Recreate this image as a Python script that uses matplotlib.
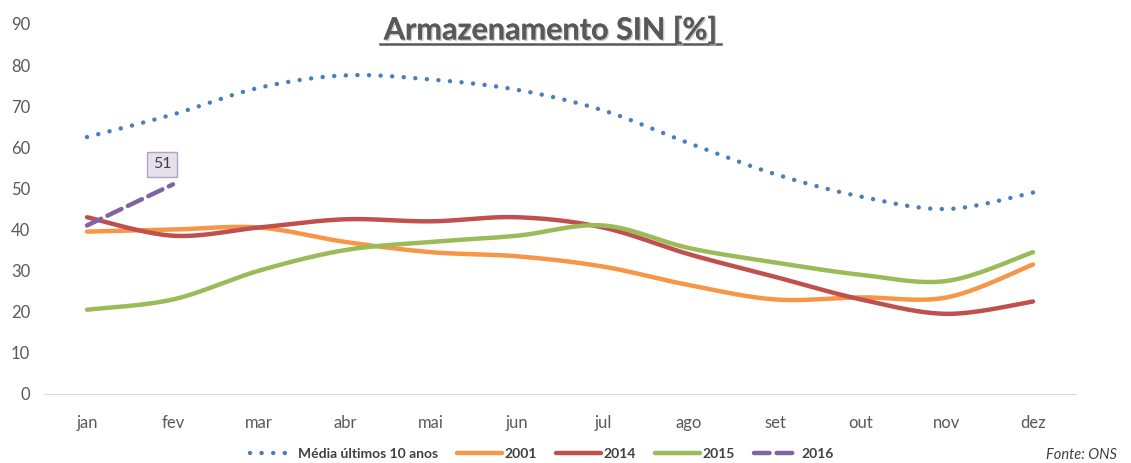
import numpy as np
import matplotlib
matplotlib.use("Agg")
import matplotlib.pyplot as plt
import matplotlib.patheffects as pe

months = ["jan", "fev", "mar", "abr", "mai", "jun", "jul", "ago", "set", "out", "nov", "dez"]
media = [62.5, 68, 74.5, 77.5, 76.5, 74, 69, 61, 53.5, 48, 45, 49]
s2001 = [39.5, 40, 40.5, 37, 34.5, 33.5, 31, 26.5, 23, 23.5, 23.5, 31.5]
s2014 = [43, 38.5, 40.5, 42.5, 42, 43, 40.5, 34, 28.5, 23, 19.5, 22.5]
s2015 = [20.5, 23, 30, 35, 37, 38.5, 41, 35.5, 32, 29, 27.5, 34.5]
s2016 = [41, 51]

plt.rcParams['font.family'] = ['Lato', 'DejaVu Sans']

def smooth(y, n=30):
    """Catmull-Rom style Bezier smoothing (like Excel's smoothed line)."""
    y = np.asarray(y, float)
    x = np.arange(len(y), dtype=float)
    if len(y) < 3:
        return x, y
    X, Y = [], []
    for i in range(len(y) - 1):
        p0 = (x[i - 1], y[i - 1]) if i > 0 else (x[i], y[i])
        p1 = (x[i], y[i]); p2 = (x[i + 1], y[i + 1])
        p3 = (x[i + 2], y[i + 2]) if i + 2 < len(y) else (x[i + 1], y[i + 1])
        c1 = (p1[0] + (p2[0] - p0[0]) / 6, p1[1] + (p2[1] - p0[1]) / 6)
        c2 = (p2[0] - (p3[0] - p1[0]) / 6, p2[1] - (p3[1] - p1[1]) / 6)
        t = np.linspace(0, 1, n, endpoint=(i == len(y) - 2))
        for a, b in ((0, X), (1, Y)):
            b.extend((1 - t) ** 3 * p1[a] + 3 * (1 - t) ** 2 * t * c1[a]
                     + 3 * (1 - t) * t ** 2 * c2[a] + t ** 3 * p2[a])
    return np.array(X), np.array(Y)

fig = plt.figure(figsize=(11.31, 4.63), dpi=100)
ax = fig.add_axes([44 / 1131, 69 / 463, (1076 - 44) / 1131, (394 - 24) / 463])

lw = 3.2
x, y = smooth(media)
ax.plot(x, y, color="#4A7EBB", lw=lw, linestyle=(0, (0.01, 2.6)), dash_capstyle="round",
        label="Média últimos 10 anos")
x, y = smooth(s2001)
ax.plot(x, y, color="#F79646", lw=lw, solid_capstyle="round", label="2001")
x, y = smooth(s2014)
ax.plot(x, y, color="#C0504D", lw=lw, solid_capstyle="round", label="2014")
x, y = smooth(s2015)
ax.plot(x, y, color="#9BBB59", lw=lw, solid_capstyle="round", label="2015")
ax.plot(np.arange(len(s2016)), s2016, color="#8064A2", lw=lw, linestyle=(0, (3.5, 1.6)),
        dash_capstyle="round", label="2016")

ax.annotate(f"{s2016[-1]:g}", xy=(1, s2016[-1]), xytext=(-8, 14.5), textcoords="offset points",
            ha="center", va="center", fontsize=11.5, color="#404040",
            bbox=dict(boxstyle="square,pad=0.35", fc="#E6E0EC", ec="#B3A2C7", lw=1))

ax.set_xlim(-0.5, 11.5)
ax.set_ylim(0, 90)
ax.set_yticks(range(0, 91, 10))
ax.set_xticks(range(12))
ax.set_xticklabels(months)
for s in ["top", "right", "left"]:
    ax.spines[s].set_visible(False)
ax.spines["bottom"].set_color("#D9D9D9")
ax.tick_params(axis="both", length=0, labelsize=12, colors="#595959")
ax.tick_params(axis="x", pad=15)
ax.tick_params(axis="y", pad=10)

t = fig.text(550 / 1131, 1 - 30 / 463, "Armazenamento SIN [%]", ha="center", va="center",
             fontsize=22, fontweight="bold", color="#595959")
t.set_path_effects([pe.withSimplePatchShadow(offset=(1, -1), shadow_rgbFace="#BBBBBB", alpha=0.8),
                    pe.Normal()])
fig.add_artist(plt.Line2D([380 / 1131, 721 / 1131], [1 - 44 / 463] * 2, color="#595959", lw=1.8))

leg = fig.legend(loc="center", bbox_to_anchor=(542 / 1131, 1 - 454 / 463), ncol=5, frameon=False,
                 fontsize=10, handlelength=3.2, columnspacing=1.4, handletextpad=0.2)
for txt in leg.get_texts():
    txt.set_color("#404040")
    txt.set_fontweight("bold")

fig.text(1046 / 1131, 1 / 463, "Fonte: ONS", ha="left", va="bottom", fontsize=10.5,
         fontstyle="italic", color="#404040")

fig.savefig("out.png", dpi=100)
